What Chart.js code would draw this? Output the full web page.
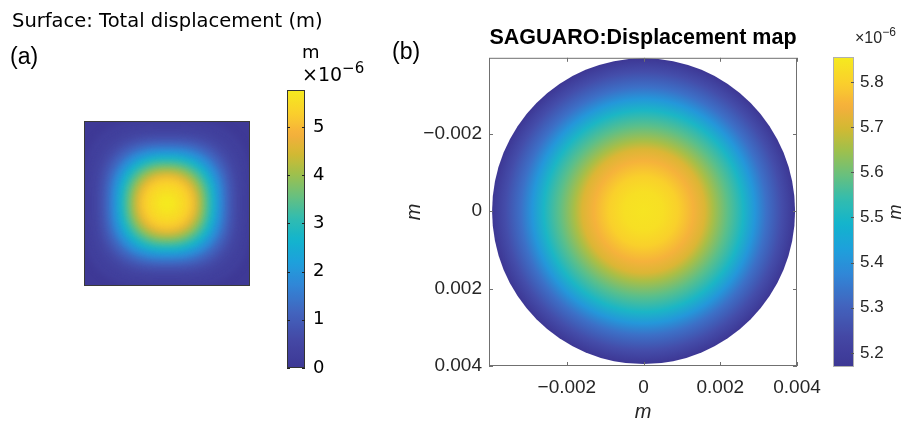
<!DOCTYPE html>
<html><head><meta charset="utf-8">
<script src="https://cdn.jsdelivr.net/npm/chart.js@4.4.1/dist/chart.umd.min.js"></script>
<style>
html,body{margin:0;padding:0;background:#fff;}
#wrap{position:relative;width:912px;height:425px;overflow:hidden;background:#fff;}
canvas{position:absolute;left:0;top:0;}
.t{position:absolute;white-space:nowrap;line-height:1;color:#000;}
.dv{font-family:'DejaVu Sans';}
.lb{font-family:'Liberation Sans';}
</style></head><body>
<div id="wrap">
<canvas id="cA" width="912" height="425"></canvas>
<canvas id="cbA" width="912" height="425"></canvas>
<canvas id="cB" width="912" height="425"></canvas>
<canvas id="cbB" width="912" height="425"></canvas>
<div class="t dv" style="left:12px;top:11px;font-size:19.5px;">Surface: Total displacement (m)</div>
<div class="t lb" style="left:10px;top:45px;font-size:23px;">(a)</div>
<div class="t lb" style="left:392px;top:40px;font-size:23px;">(b)</div>
<div class="t dv" style="left:302px;top:43px;font-size:18px;">m</div>
<div class="t dv" style="left:302px;top:65px;font-size:19px;">×10<span style="font-size:15px;position:relative;top:-8px;">−6</span></div>
<div class="t lb" style="left:855px;top:30px;font-size:16px;color:#262626;">×10<span style="font-size:12px;position:relative;top:-7px;">−6</span></div>
<div class="t lb" style="left:895px;top:212px;font-size:18px;font-style:italic;color:#262626;transform:translate(-50%,-50%) rotate(-90deg);">m</div>
</div>
<script>
// ---------- DATA ----------
// Panel (a): COMSOL surface, contour levels (half-width as fraction of half-side) and values (x1e-6 m)
const sqLevelRadius     = [1.25, 1.00, 0.87, 0.78, 0.69, 0.60, 0.52, 0.45, 0.38, 0.32, 0.24, 0.12];
const sqLevelValue      = [0.08, 0.30, 0.60, 1.10, 1.80, 2.60, 3.30, 4.00, 4.60, 5.20, 5.50, 5.72];
const sqLevelSquareness = [4.0, 3.4, 3.0, 2.8, 2.6, 2.5, 2.4, 2.3, 2.2, 2.1, 2.0, 2.0];
const cbarATicks      = [0, 1, 2, 3, 4, 5];
const cbarATickLabels = ['0', '1', '2', '3', '4', '5'];
const cbarARange      = [0, 5.77];

// Panel (b): SAGUARO disc, radial profile (radius in m, value x1e-6 m)
const discRadius = [0, 0.0005, 0.0009, 0.0013, 0.0016, 0.0018, 0.0022, 0.0026, 0.0029, 0.0032, 0.0036, 0.00395];
const discValue  = [5.84, 5.83, 5.80, 5.75, 5.71, 5.66, 5.58, 5.50, 5.41, 5.33, 5.25, 5.17];
const discXTicks      = [-0.002, 0, 0.002, 0.004];
const discXTickLabels = ['\u22120.002', '0', '0.002', '0.004'];
const discYTicks      = [-0.002, 0, 0.002, 0.004];
const discYTickLabels = ['\u22120.002', '0', '0.002', '0.004'];
const discXRange = [-0.00403, 0.004];
const discYRange = [-0.00396, 0.004];
const cbarBTicks      = [5.2, 5.3, 5.4, 5.5, 5.6, 5.7, 5.8];
const cbarBTickLabels = ['5.2', '5.3', '5.4', '5.5', '5.6', '5.7', '5.8'];
const cbarBRange      = [5.169, 5.855];

// ---------- STYLE ----------
const CMAP = [
  [0.00, [61, 55, 148]],
  [0.10, [68, 72, 165]],
  [0.20, [66, 100, 190]],
  [0.30, [48, 135, 215]],
  [0.38, [30, 160, 220]],
  [0.46, [18, 180, 205]],
  [0.54, [50, 188, 175]],
  [0.62, [105, 192, 125]],
  [0.70, [160, 192, 75]],
  [0.77, [210, 185, 50]],
  [0.84, [245, 175, 60]],
  [0.91, [250, 205, 45]],
  [1.00, [245, 235, 30]]
];
function cmap(t) {
  t = Math.max(0, Math.min(1, t));
  for (let i = 1; i < CMAP.length; i++) {
    if (t <= CMAP[i][0]) {
      const [t0, c0] = CMAP[i - 1], [t1, c1] = CMAP[i];
      const f = (t - t0) / (t1 - t0);
      const c = c0.map((v, k) => Math.round(v + (c1[k] - v) * f));
      return `rgb(${c[0]},${c[1]},${c[2]})`;
    }
  }
  const c = CMAP[CMAP.length - 1][1];
  return `rgb(${c[0]},${c[1]},${c[2]})`;
}
const colA = v => cmap((v - cbarARange[0]) / (cbarARange[1] - cbarARange[0]));
const colB = v => cmap((v - cbarBRange[0]) / (cbarBRange[1] - cbarBRange[0]));

const baseOpts = () => ({
  responsive: false, animation: false, events: [],
  plugins: { legend: { display: false }, tooltip: { enabled: false }, title: { display: false } }
});

// ---------- PANEL (a) FIELD ----------
const squarePlugin = {
  id: 'sqField',
  beforeDatasetsDraw(chart) {
    const { ctx, chartArea: a, scales: { x, y } } = chart;
    const cx = x.getPixelForValue(0), cy = y.getPixelForValue(0);
    ctx.save();
    ctx.beginPath(); ctx.rect(a.left, a.top, a.right - a.left, a.bottom - a.top); ctx.clip();
    ctx.fillStyle = colA(sqLevelValue[0]);
    ctx.fillRect(a.left, a.top, a.right - a.left, a.bottom - a.top);
    ctx.filter = 'blur(3.5px)';
    sqLevelRadius.forEach((r, i) => {
      const hx = Math.abs(x.getPixelForValue(r) - cx), hy = Math.abs(y.getPixelForValue(r) - cy);
      const p = sqLevelSquareness[i];
      ctx.beginPath();
      const n = 160;
      for (let k = 0; k <= n; k++) {
        const th = 2 * Math.PI * k / n, c = Math.cos(th), s = Math.sin(th);
        const px = cx + hx * Math.sign(c) * Math.pow(Math.abs(c), 2 / p);
        const py = cy + hy * Math.sign(s) * Math.pow(Math.abs(s), 2 / p);
        if (k === 0) ctx.moveTo(px, py); else ctx.lineTo(px, py);
      }
      ctx.closePath();
      ctx.fillStyle = colA(sqLevelValue[i]);
      ctx.fill();
    });
    ctx.restore();
    ctx.save();
    ctx.strokeStyle = '#3a3a3a'; ctx.lineWidth = 1;
    ctx.strokeRect(a.left + 0.5, a.top + 0.5, a.right - a.left - 1, a.bottom - a.top - 1);
    ctx.restore();
  }
};
new Chart(document.getElementById('cA'), {
  type: 'scatter', data: { datasets: [{ data: [] }] },
  options: Object.assign(baseOpts(), {
    layout: { padding: { left: 84, right: 662, top: 121, bottom: 139 } },
    scales: { x: { type: 'linear', display: false, min: -1, max: 1 }, y: { type: 'linear', display: false, min: -1, max: 1 } }
  }),
  plugins: [squarePlugin]
});

// ---------- COLORBARS ----------
function colorbarPlugin(range, colFn, frameColor, tickColor, tickVals, bothSides) {
  return {
    id: 'cbar',
    beforeDatasetsDraw(chart) {
      const { ctx, chartArea: a, scales: { y } } = chart;
      const g = ctx.createLinearGradient(0, y.getPixelForValue(range[0]), 0, y.getPixelForValue(range[1]));
      for (let k = 0; k <= 60; k++) {
        const t = k / 60;
        g.addColorStop(t, colFn(range[0] + t * (range[1] - range[0])));
      }
      ctx.save();
      ctx.fillStyle = g;
      ctx.fillRect(a.left, a.top, a.right - a.left, a.bottom - a.top);
      ctx.strokeStyle = frameColor; ctx.lineWidth = 1;
      ctx.strokeRect(a.left + 0.5, a.top + 0.5, a.right - a.left - 1, a.bottom - a.top - 1);
      ctx.strokeStyle = tickColor;
      tickVals.forEach(v => {
        const py = Math.round(y.getPixelForValue(v)) + 0.5;
        ctx.beginPath();
        ctx.moveTo(a.right, py); ctx.lineTo(a.right - 3, py);
        if (bothSides) { ctx.moveTo(a.left, py); ctx.lineTo(a.left + 3, py); }
        ctx.stroke();
      });
      ctx.restore();
    }
  };
}
new Chart(document.getElementById('cbA'), {
  type: 'scatter', data: { datasets: [{ data: [] }] },
  options: Object.assign(baseOpts(), {
    layout: { padding: { left: 287, right: 567, top: 90, bottom: 57 } },
    scales: {
      x: { type: 'linear', display: false, min: 0, max: 1 },
      y: {
        type: 'linear', position: 'right', min: cbarARange[0], max: cbarARange[1],
        afterBuildTicks: s => { s.ticks = cbarATicks.map(v => ({ value: v })); },
        afterFit: s => { s.width = 40; },
        grid: { display: false, drawTicks: false }, border: { display: false },
        ticks: { padding: 8, color: '#000', autoSkip: false, font: { family: 'DejaVu Sans', size: 18 },
                 callback: (v, i) => cbarATickLabels[i] }
      }
    }
  }),
  plugins: [colorbarPlugin(cbarARange, colA, '#333', '#222', cbarATicks, true)]
});
new Chart(document.getElementById('cbB'), {
  type: 'scatter', data: { datasets: [{ data: [] }] },
  options: Object.assign(baseOpts(), {
    layout: { padding: { left: 833, right: 18, top: 57, bottom: 58 } },
    scales: {
      x: { type: 'linear', display: false, min: 0, max: 1 },
      y: {
        type: 'linear', position: 'right', min: cbarBRange[0], max: cbarBRange[1],
        afterBuildTicks: s => { s.ticks = cbarBTicks.map(v => ({ value: v })); },
        afterFit: s => { s.width = 40; },
        grid: { display: false, drawTicks: false }, border: { display: false },
        ticks: { padding: 6, color: '#262626', autoSkip: false, font: { family: 'Liberation Sans', size: 17 },
                 callback: (v, i) => cbarBTickLabels[i] }
      }
    }
  }),
  plugins: [colorbarPlugin(cbarBRange, colB, '#b0b0b0', '#555', cbarBTicks, false)]
});

// ---------- PANEL (b) DISC ----------
const discPlugin = {
  id: 'disc',
  beforeDatasetsDraw(chart) {
    const { ctx, scales: { x, y } } = chart;
    const cx = x.getPixelForValue(0), cy = y.getPixelForValue(0);
    const R = discRadius[discRadius.length - 1];
    const rx = Math.abs(x.getPixelForValue(R) - cx), ry = Math.abs(y.getPixelForValue(R) - cy);
    ctx.save();
    ctx.translate(cx, cy); ctx.scale(1, ry / rx);
    const g = ctx.createRadialGradient(0, 0, 0, 0, 0, rx);
    discRadius.forEach((r, i) => g.addColorStop(Math.abs(x.getPixelForValue(r) - cx) / rx, colB(discValue[i])));
    ctx.fillStyle = g;
    ctx.beginPath(); ctx.arc(0, 0, rx, 0, 2 * Math.PI); ctx.fill();
    ctx.restore();
  },
  afterDraw(chart) {
    const { ctx, chartArea: a, scales: { x, y } } = chart;
    ctx.save();
    ctx.strokeStyle = '#707070'; ctx.lineWidth = 1;
    ctx.strokeRect(a.left + 0.5, a.top + 0.5, a.right - a.left - 1, a.bottom - a.top - 1);
    ctx.beginPath();
    discXTicks.forEach(v => {
      const px = Math.round(x.getPixelForValue(v)) + 0.5;
      ctx.moveTo(px, a.bottom); ctx.lineTo(px, a.bottom - 4);
      ctx.moveTo(px, a.top); ctx.lineTo(px, a.top + 4);
    });
    discYTicks.forEach(v => {
      const py = Math.round(y.getPixelForValue(v)) + 0.5;
      ctx.moveTo(a.left, py); ctx.lineTo(a.left + 4, py);
      ctx.moveTo(a.right, py); ctx.lineTo(a.right - 4, py);
    });
    ctx.stroke();
    ctx.restore();
  }
};
const mFont = { family: 'Liberation Sans', size: 19 };
new Chart(document.getElementById('cB'), {
  type: 'scatter', data: { datasets: [{ data: [] }] },
  options: Object.assign(baseOpts(), {
    layout: { padding: { left: 402, right: 115, top: 0, bottom: 1 } },
    plugins: {
      legend: { display: false }, tooltip: { enabled: false },
      title: { display: true, text: 'SAGUARO:Displacement map', fullSize: false, color: '#000',
               font: { family: 'Liberation Sans', size: 21.5, weight: 'bold' }, padding: { top: 25, bottom: 7 } }
    },
    scales: {
      x: {
        type: 'linear', position: 'bottom', min: discXRange[0], max: discXRange[1],
        afterBuildTicks: s => { s.ticks = discXTicks.map(v => ({ value: v })); },
        afterFit: s => { s.height = 58; },
        grid: { display: false, drawTicks: false }, border: { display: false },
        ticks: { padding: 10, color: '#262626', autoSkip: false, maxRotation: 0, font: mFont,
                 callback: (v, i) => discXTickLabels[i] },
        title: { display: true, text: 'm', padding: 0, color: '#262626',
                 font: { family: 'Liberation Sans', size: 20, style: 'italic' } }
      },
      y: {
        type: 'linear', position: 'left', reverse: true, min: discYRange[0], max: discYRange[1],
        afterBuildTicks: s => { s.ticks = discYTicks.map(v => ({ value: v })); },
        afterFit: s => { s.width = 87; },
        grid: { display: false, drawTicks: false }, border: { display: false },
        ticks: { padding: 7, color: '#262626', autoSkip: false, font: mFont,
                 callback: (v, i) => discYTickLabels[i] },
        title: { display: true, text: 'm', padding: 0, color: '#262626',
                 font: { family: 'Liberation Sans', size: 20, style: 'italic' } }
      }
    }
  }),
  plugins: [discPlugin]
});
</script>
</body></html>
